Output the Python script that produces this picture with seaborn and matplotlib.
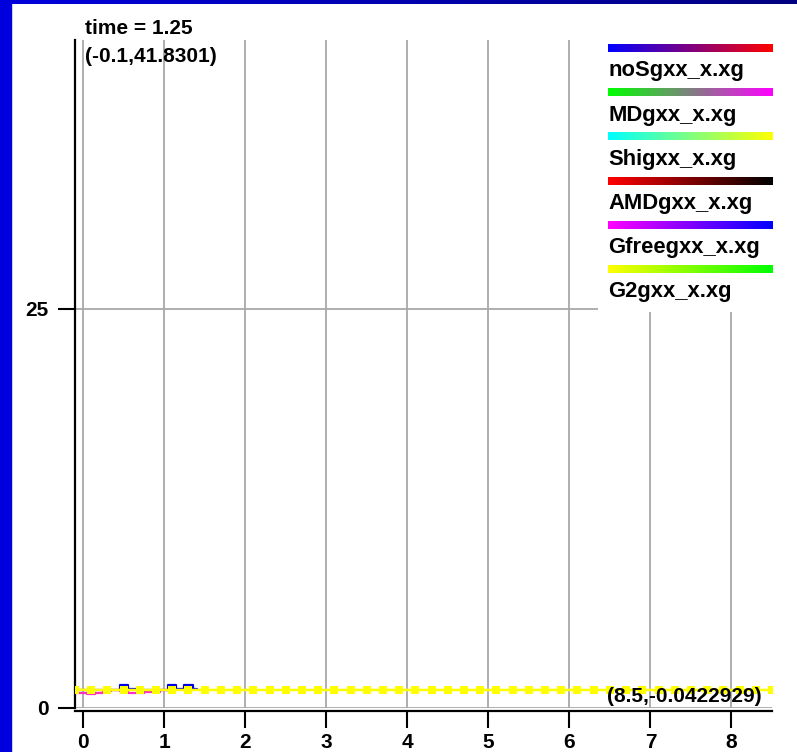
import matplotlib
matplotlib.use("Agg")
import numpy as np
import pandas as pd
import matplotlib.pyplot as plt
import seaborn as sns
from matplotlib.colors import LinearSegmentedColormap
from matplotlib.patches import Rectangle

# ---------------- data ----------------
time_label = "time = 1.25"
corner_top_left = "(-0.1,41.8301)"
corner_bottom_right = "(8.5,-0.0422929)"
x_min, x_max = -0.1, 8.5
y_min, y_max = -0.0422929, 41.8301
x_ticks = [0, 1, 2, 3, 4, 5, 6, 7, 8]
y_ticks = [0, 25]

legend_names = ["noSgxx_x.xg", "MDgxx_x.xg", "Shigxx_x.xg",
                "AMDgxx_x.xg", "Gfreegxx_x.xg", "G2gxx_x.xg"]
legend_start = ["#0000ff", "#00ff00", "#00ffff", "#ff0000", "#ff00ff", "#ffff00"]
legend_end = ["#ff0000", "#ff00ff", "#ffff00", "#000000", "#0000ff", "#00ff00"]

g2_x = [-0.1, 0.1, 0.3, 0.5, 0.7, 0.9, 1.1, 1.3, 1.5, 1.7, 1.9, 2.1, 2.3, 2.5,
        2.7, 2.9, 3.1, 3.3, 3.5, 3.7, 3.9, 4.1, 4.3, 4.5, 4.7, 4.9, 5.1, 5.3,
        5.5, 5.7, 5.9, 6.1, 6.3, 6.5, 6.7, 6.9, 7.1, 7.3, 7.5, 7.7, 7.9, 8.1,
        8.3, 8.5]
g2_y = [1.12, 1.1, 1.1, 1.1, 1.1, 1.1, 1.1, 1.1, 1.1, 1.1, 1.1, 1.1, 1.1, 1.1,
        1.1, 1.1, 1.1, 1.1, 1.1, 1.1, 1.1, 1.1, 1.1, 1.1, 1.1, 1.1, 1.1, 1.1,
        1.1, 1.1, 1.1, 1.1, 1.1, 1.1, 1.1, 1.1, 1.1, 1.1, 1.1, 1.1, 1.1, 1.1,
        1.1, 1.1]

nosg_x = [-0.1, 0.0, 0.1, 0.2, 0.3, 0.4, 0.5, 0.6, 0.7, 0.8, 0.9, 1.0, 1.1,
          1.2, 1.3, 1.4]
nosg_y = [1.1, 1.1, 1.1, 1.1, 1.1, 1.1, 1.42, 1.18, 1.1, 1.1, 1.1, 1.1, 1.42,
          1.18, 1.42, 1.18]

gfree_x = [-0.1, 0.0, 0.1, 0.2, 0.3, 0.4, 0.5, 0.6, 0.7, 0.8, 0.9, 1.0, 1.1]
gfree_y = [0.92, 0.88, 0.82, 0.88, 1.05, 1.08, 1.05, 0.92, 0.92, 0.95, 0.97,
           1.08, 1.1]

nosg_color = "#0000e8"
gfree_color = "#ff30c8"
g2_color = "#ffff00"

# ---------------- figure ----------------
W, H = 797, 752
sns.set_theme(style="white")
plt.rcParams["font.family"] = ["Liberation Sans", "DejaVu Sans"]
plt.rcParams["font.weight"] = "bold"

fig = plt.figure(figsize=(W / 100, H / 100), dpi=100)
fig.patch.set_facecolor("white")

# blue slide frame
fig.add_artist(Rectangle((0, 0), 11 / W, 1, transform=fig.transFigure,
                         color="#0000dd", zorder=0))
band = fig.add_axes([0, 1 - 4 / H, 1, 4 / H])
band.imshow(np.linspace(0, 1, 256).reshape(1, -1), aspect="auto",
            cmap=LinearSegmentedColormap.from_list("b", ["#0000dd", "#000080"]))
band.axis("off")

ax = fig.add_axes([75 / W, 1 - 708.2 / H, (772 - 75) / W, (708.2 - 40) / H])
ax.set_facecolor("white")

df_gfree = pd.DataFrame({"x": gfree_x, "y": gfree_y})
df_g2 = pd.DataFrame({"x": g2_x, "y": g2_y})
df_nosg = pd.DataFrame({"x": nosg_x, "y": nosg_y})

sns.lineplot(data=df_gfree, x="x", y="y", ax=ax, color=gfree_color, lw=1.6,
             drawstyle="steps-mid", errorbar=None, zorder=3)
sns.lineplot(data=df_nosg, x="x", y="y", ax=ax, color=nosg_color, lw=1.6,
             drawstyle="steps-mid", errorbar=None, zorder=3.5)
sns.lineplot(data=df_g2, x="x", y="y", ax=ax, color=g2_color, lw=1.8,
             marker="s", markersize=6, markeredgewidth=0, errorbar=None, zorder=4)

ax.set_xlim(x_min, x_max)
ax.set_ylim(y_min, y_max)
ax.set_xticks(x_ticks)
ax.set_yticks(y_ticks)
ax.set_xticklabels([str(t) for t in x_ticks])
ax.set_yticklabels([str(t) for t in y_ticks])
ax.set_xlabel("")
ax.set_ylabel("")
ax.grid(True, color="#a8a8a8", lw=1.3)
ax.set_axisbelow(True)
for s in ["top", "right"]:
    ax.spines[s].set_visible(False)
for s in ["left", "bottom"]:
    ax.spines[s].set_color("black")
    ax.spines[s].set_linewidth(1.6)
ax.spines["bottom"].set_position(("outward", 2))
ax.tick_params(axis="x", direction="out", length=12, width=1.5, color="black",
               pad=3.5, labelsize=15, bottom=True)
ax.tick_params(axis="y", direction="out", length=12, width=1.5, color="black",
               pad=7, labelsize=15, left=True)
for lab in ax.get_xticklabels() + ax.get_yticklabels():
    lab.set_fontweight("bold")
    lab.set_color("black")

# annotations
fig.text(85 / W, 1 - 28 / H, time_label, ha="left", va="center",
         fontsize=15, fontweight="bold", color="black")
fig.text(85 / W, 1 - 57 / H, corner_top_left, ha="left", va="center",
         fontsize=15, fontweight="bold", color="black", zorder=1)
fig.text(762 / W, 1 - 697 / H, corner_bottom_right, ha="right", va="center",
         fontsize=15, fontweight="bold", color="black", zorder=10)

# legend box
lg = fig.add_axes([598 / W, 1 - 312 / H, (776 - 598) / W, (312 - 40) / H],
                  zorder=6)
lg.set_facecolor("white")
for s in lg.spines.values():
    s.set_visible(False)
lg.set_xticks([])
lg.set_yticks([])
grad = np.linspace(0, 1, 256).reshape(1, -1)
for i, name in enumerate(legend_names):
    yb = 48 + i * 44.2
    cm = LinearSegmentedColormap.from_list(name, [legend_start[i], legend_end[i]])
    lg.imshow(grad, cmap=cm, aspect="auto", extent=[608, 773, yb + 4, yb - 4])
    lg.text(608, yb + 23, name, ha="left", va="center", fontsize=15.8,
            fontweight="bold", color="black")
lg.set_xlim(598, 776)
lg.set_ylim(312, 40)

fig.savefig("out.png", dpi=100)
